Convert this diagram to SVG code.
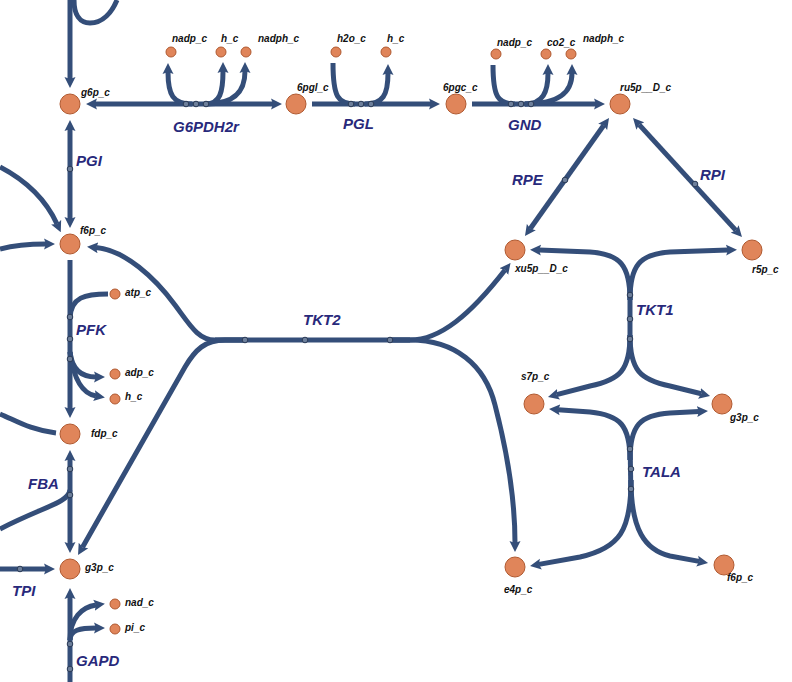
<svg xmlns="http://www.w3.org/2000/svg" width="792" height="682" viewBox="0 0 792 682">
<style>
.e{fill:none;stroke:#344e79;stroke-width:5}
.m{marker-end:url(#ah)}
.b{marker-start:url(#ah);marker-end:url(#ah)}
.d{fill:#6d7f9b;stroke:#2a3a55;stroke-width:1}
.rl{font-family:"Liberation Sans",Arial,sans-serif;font-weight:bold;font-style:italic;font-size:15px;fill:#28297b}
.big{fill:#e0855a;stroke:#b05a31;stroke-width:1}
.sm{fill:#e0855a;stroke:#b05a31;stroke-width:1}
.nl{font-family:"Liberation Sans",Arial,sans-serif;font-weight:bold;font-style:italic;font-size:10px;fill:#111}
</style>
<defs>
<marker id="ah" markerUnits="userSpaceOnUse" markerWidth="11" markerHeight="12" viewBox="0 -6 11 12" refX="2" refY="0" orient="auto-start-reverse">
<path d="M0,-5.5 L11,0 L0,5.5 L2,0 Z" fill="#344e79"/>
</marker>
</defs>
<rect width="792" height="682" fill="#fff"/>
<g id="connectors">
<g id="upper">
<path class="e m" d="M70,0 L70,79"/>
<path class="e" d="M74,0 C74,15 80,23 90,23 C103,23 112,12 117,0"/>
</g>
<g id="G6PDH2r">
<path class="e b" d="M95,104 L273,104"/>
<path class="e m" d="M192,104 C173,104 168,95 168,72"/>
<path class="e m" d="M206,104 C220,104 223,92 223,71"/>
<path class="e m" d="M206,104 C236,104 245,90 245,71"/>
<circle class="d" cx="186" cy="104" r="2.8"/><circle class="d" cx="196" cy="104" r="2.8"/><circle class="d" cx="206" cy="104" r="2.8"/>
<text class="rl" x="173" y="132">G6PDH2r</text>
</g>
<g id="PGL">
<path class="e m" d="M312,104 L431,104"/>
<path class="e" d="M333,63 C333,97 338,104 355,104"/>
<path class="e m" d="M365,104 C383,104 388,95 388,73"/>
<circle class="d" cx="351" cy="104" r="2.8"/><circle class="d" cx="361" cy="104" r="2.8"/><circle class="d" cx="371" cy="104" r="2.8"/>
<text class="rl" x="343" y="129">PGL</text>
</g>
<g id="GND">
<path class="e m" d="M472,104 L596,104"/>
<path class="e" d="M493,65 C493,97 498,104 515,104"/>
<path class="e m" d="M525,104 C543,104 548,92 548,73"/>
<path class="e m" d="M525,104 C560,104 572,92 572,73"/>
<circle class="d" cx="511" cy="104" r="2.8"/><circle class="d" cx="521" cy="104" r="2.8"/><circle class="d" cx="531" cy="104" r="2.8"/>
<text class="rl" x="508" y="130">GND</text>
</g>
<g id="PGI">
<path class="e b" d="M70,129 L70,219"/>
<circle class="d" cx="70" cy="169" r="2.8"/>
<text class="rl" x="76" y="166">PGI</text>
</g>
<g id="left-f6p">
<path class="e m" d="M0,167 C25,180 45,198 57,224"/>
<path class="e m" d="M0,249 C15,245 30,244 46,244"/>
<path class="e" d="M56,433 C30,430 15,420 0,414"/>
</g>
<g id="PFK">
<path class="e m" d="M70,260 L70,409"/>
<path class="e" d="M108,294 C85,294 71,297 70,318"/>
<path class="e m" d="M70,352 C72,370 82,377 96,377"/>
<path class="e m" d="M70,352 C74,382 84,394 96,396"/>
<circle class="d" cx="70" cy="317" r="2.8"/><circle class="d" cx="70" cy="339" r="2.8"/><circle class="d" cx="70" cy="359" r="2.8"/>
<text class="rl" x="76" y="335">PFK</text>
</g>
<g id="FBA">
<path class="e b" d="M70,459 L70,544"/>
<path class="e" d="M70,490 C68,503 45,506 0,529"/>
<circle class="d" cx="70" cy="469" r="2.8"/><circle class="d" cx="70" cy="495" r="2.8"/>
<text class="rl" x="28" y="489">FBA</text>
</g>
<g id="TPI">
<path class="e m" d="M0,569 L46,569"/>
<circle class="d" cx="20" cy="569" r="2.8"/>
<text class="rl" x="12" y="596">TPI</text>
</g>
<g id="GAPD">
<path class="e m" d="M70,682 L70,597"/>
<path class="e m" d="M70,640 C70,618 82,607 96,605"/>
<path class="e m" d="M70,640 C70,630 80,628 96,628"/>
<circle class="d" cx="70" cy="644" r="2.8"/><circle class="d" cx="70" cy="669" r="2.8"/>
<text class="rl" x="76" y="666">GAPD</text>
</g>
<g id="RPE">
<path class="e b" d="M530.2,228.7 L603.8,125.3"/>
<circle class="d" cx="565" cy="180" r="2.8"/>
<text class="rl" x="512" y="185">RPE</text>
</g>
<g id="RPI">
<path class="e b" d="M639.1,124.6 L735.9,230.4"/>
<circle class="d" cx="695" cy="184" r="2.8"/>
<text class="rl" x="700" y="180">RPI</text>
</g>
<g id="TKT1">
<path class="e" d="M630,285 L630,350"/>
<path class="e m" d="M630,300 C630,265 620,254 590,252 L539,250"/>
<path class="e m" d="M630,300 C630,265 640,254 670,252 L728,250"/>
<path class="e m" d="M630,335 C630,370 620,380 590,386 L556.7,394.7"/>
<path class="e m" d="M630,335 C630,370 640,380 670,386 L701.3,393.8"/>
<circle class="d" cx="630" cy="295" r="2.8"/><circle class="d" cx="630" cy="319" r="2.8"/><circle class="d" cx="630" cy="339" r="2.8"/>
<text class="rl" x="636" y="315">TKT1</text>
</g>
<g id="TALA">
<path class="e" d="M630,440 L631,500"/>
<path class="e m" d="M630,460 C630,425 620,415 590,412 L558,409.7"/>
<path class="e m" d="M630,460 C630,425 640,415 670,413 L699,411.5"/>
<path class="e m" d="M631,480 C631,530 620,548 580,557 L538.9,564.4"/>
<path class="e m" d="M631,480 C631,530 645,550 670,556 L699.2,561.4"/>
<circle class="d" cx="630" cy="449" r="2.8"/><circle class="d" cx="631" cy="469" r="2.8"/><circle class="d" cx="631" cy="489" r="2.8"/>
<text class="rl" x="642" y="477">TALA</text>
</g>
<g id="TKT2">
<path class="e" d="M215,340 L410,340"/>
<path class="e m" d="M245,340 L215,340 C198,340 190,325 175,305 C155,278 125,250 96,247.5"/>
<path class="e m" d="M245,340 L225,340 C205,340 195,350 185,367 L82.5,547.2"/>
<path class="e m" d="M390,340 L410,340 C440,340 470,315 505,270"/>
<path class="e m" d="M390,340 L410,340 C455,340 485,365 495,405 C508,455 515,500 515,543"/>
<circle class="d" cx="245" cy="340" r="2.8"/><circle class="d" cx="305" cy="340" r="2.8"/><circle class="d" cx="390" cy="340" r="2.8"/>
<text class="rl" x="303" y="325">TKT2</text>
</g>
</g>
<g id="nodes">
<g id="g6p_c"><circle class="big" cx="70" cy="104" r="10"/><text class="nl" x="81" y="96">g6p_c</text></g>
<g id="nadp_c_1"><circle class="sm" cx="171" cy="52" r="5"/><text class="nl" x="172" y="42">nadp_c</text></g>
<g id="h_c_1"><circle class="sm" cx="221" cy="52" r="5"/><text class="nl" x="221" y="42">h_c</text></g>
<g id="nadph_c_1"><circle class="sm" cx="246" cy="52" r="5"/><text class="nl" x="258" y="42">nadph_c</text></g>
<g id="6pgl_c"><circle class="big" cx="296" cy="104" r="10"/><text class="nl" x="297" y="91">6pgl_c</text></g>
<g id="h2o_c"><circle class="sm" cx="336" cy="52" r="5"/><text class="nl" x="337" y="42">h2o_c</text></g>
<g id="h_c_2"><circle class="sm" cx="386" cy="52" r="5"/><text class="nl" x="387" y="42">h_c</text></g>
<g id="6pgc_c"><circle class="big" cx="456" cy="104" r="10"/><text class="nl" x="443" y="91">6pgc_c</text></g>
<g id="nadp_c_2"><circle class="sm" cx="496" cy="54" r="5"/><text class="nl" x="497" y="46">nadp_c</text></g>
<g id="co2_c"><circle class="sm" cx="546" cy="54" r="5"/><text class="nl" x="547" y="46">co2_c</text></g>
<g id="nadph_c_2"><circle class="sm" cx="571" cy="54" r="5"/><text class="nl" x="583" y="42">nadph_c</text></g>
<g id="ru5p__D_c"><circle class="big" cx="620" cy="104" r="10"/><text class="nl" x="620" y="91">ru5p__D_c</text></g>
<g id="f6p_c_1"><circle class="big" cx="70" cy="244" r="10"/><text class="nl" x="80" y="234">f6p_c</text></g>
<g id="atp_c"><circle class="sm" cx="115" cy="294" r="5"/><text class="nl" x="125" y="296">atp_c</text></g>
<g id="adp_c"><circle class="sm" cx="115" cy="374" r="5"/><text class="nl" x="125" y="376">adp_c</text></g>
<g id="h_c_3"><circle class="sm" cx="115" cy="399" r="5"/><text class="nl" x="125" y="400">h_c</text></g>
<g id="fdp_c"><circle class="big" cx="70" cy="434" r="10"/><text class="nl" x="91" y="437">fdp_c</text></g>
<g id="g3p_c_1"><circle class="big" cx="70" cy="569" r="10"/><text class="nl" x="85" y="571">g3p_c</text></g>
<g id="nad_c"><circle class="sm" cx="115" cy="604" r="5"/><text class="nl" x="125" y="606">nad_c</text></g>
<g id="pi_c"><circle class="sm" cx="115" cy="629" r="5"/><text class="nl" x="125" y="631">pi_c</text></g>
<g id="xu5p__D_c"><circle class="big" cx="515" cy="250" r="10"/><text class="nl" x="515" y="272">xu5p__D_c</text></g>
<g id="r5p_c"><circle class="big" cx="752" cy="250" r="10"/><text class="nl" x="752" y="273">r5p_c</text></g>
<g id="s7p_c"><circle class="big" cx="534" cy="404" r="10"/><text class="nl" x="521" y="380">s7p_c</text></g>
<g id="g3p_c_2"><circle class="big" cx="722" cy="404" r="10"/><text class="nl" x="730" y="421">g3p_c</text></g>
<g id="e4p_c"><circle class="big" cx="515" cy="567" r="10"/><text class="nl" x="504" y="593">e4p_c</text></g>
<g id="f6p_c_2"><circle class="big" cx="724" cy="565" r="10"/><text class="nl" x="727" y="581">f6p_c</text></g>
</g>
</svg>
